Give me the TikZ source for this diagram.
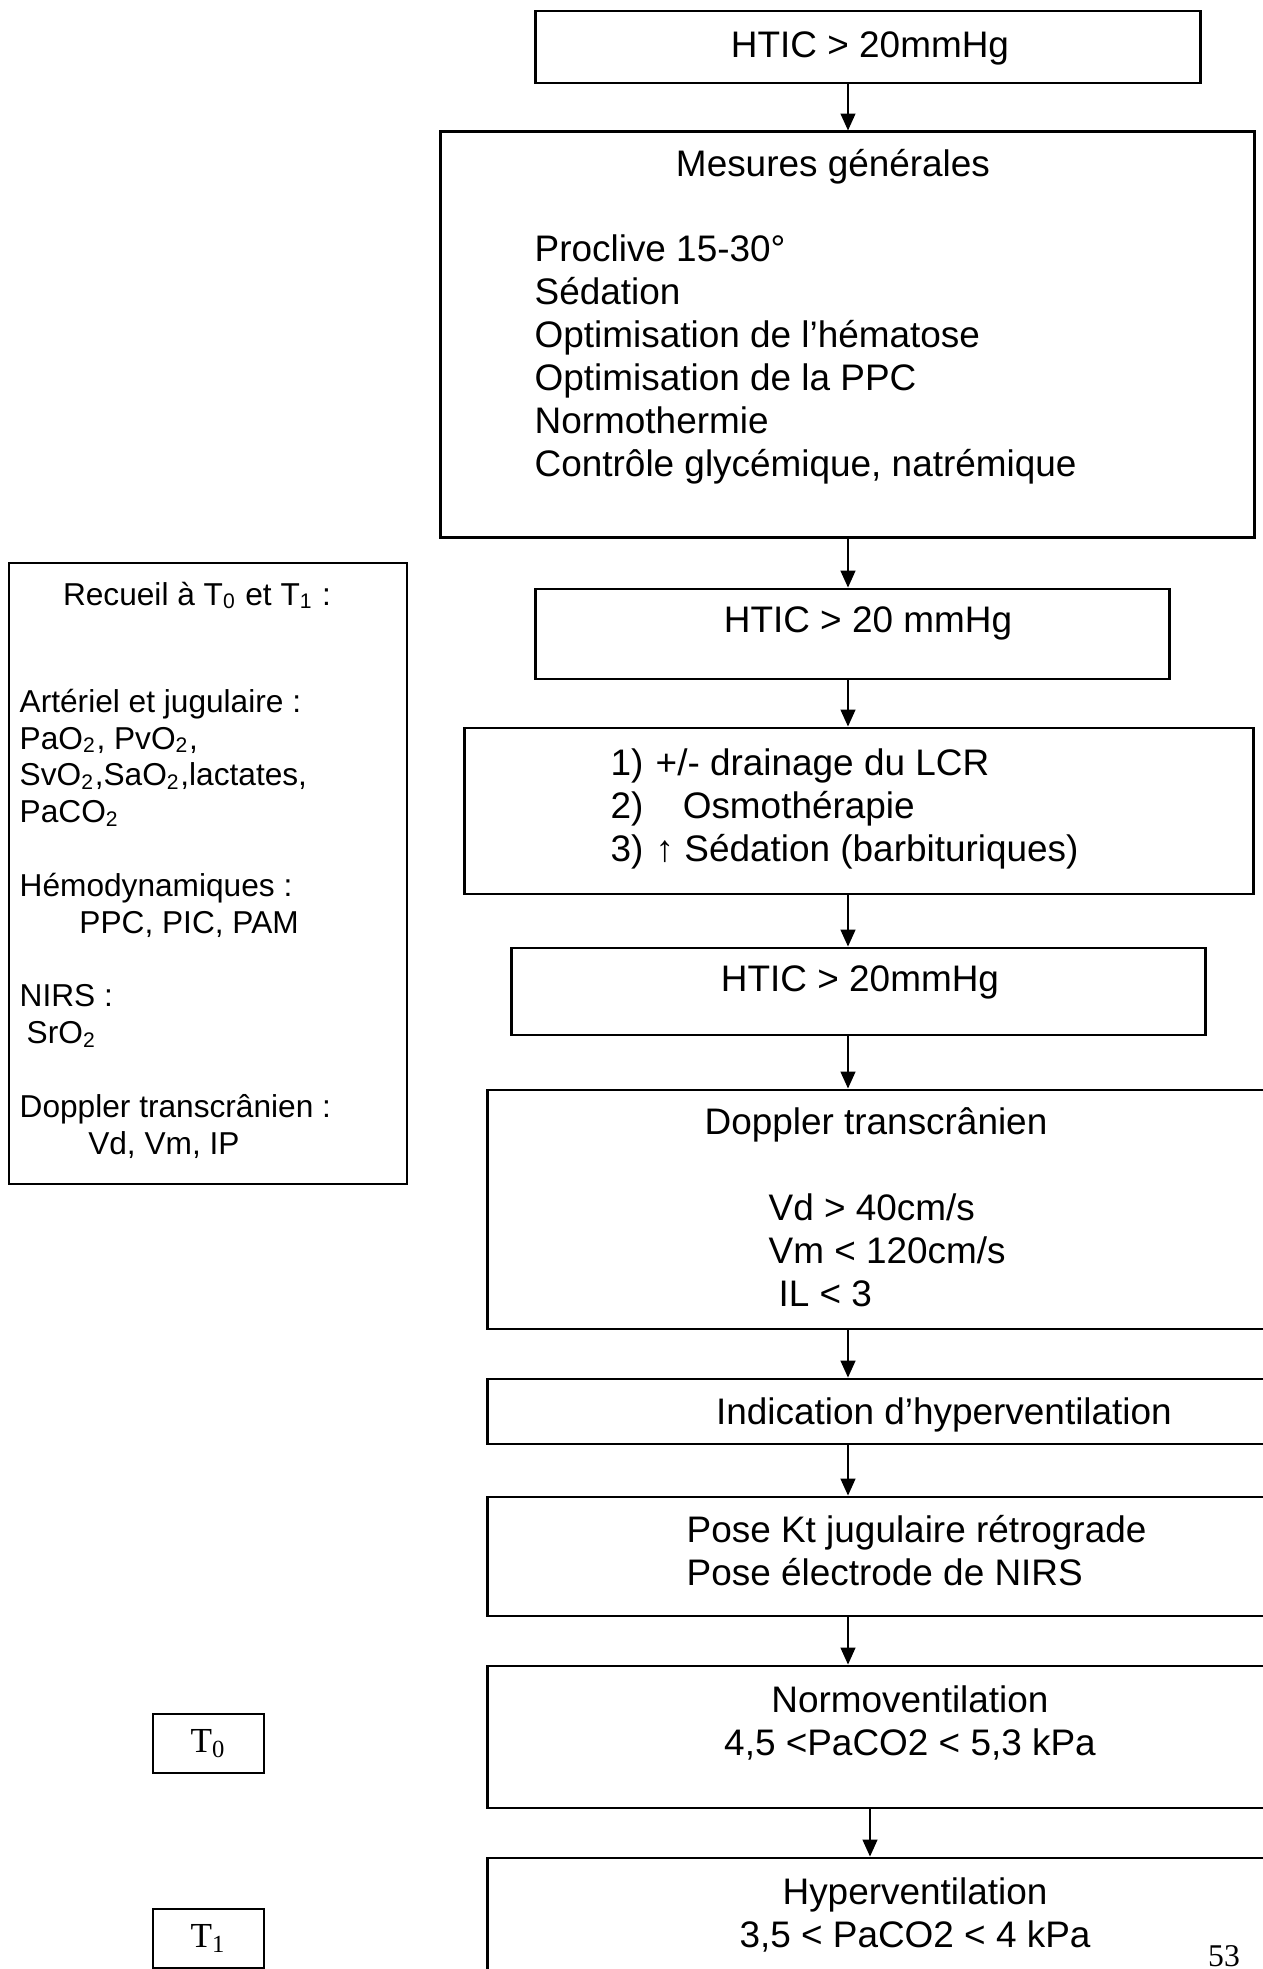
\documentclass[tikz,border=0pt]{standalone}
\usepackage{fontspec}
\setmainfont{Liberation Sans}
\newfontfamily\serifT{Liberation Serif}
\usetikzlibrary{arrows.meta}

\begin{document}
\begin{tikzpicture}[x=0.01cm,y=-0.01cm,
  boite/.style={draw,line width=0.8pt,inner sep=0pt},
  petite/.style={draw,line width=0.5pt,inner sep=0pt},
  fleche/.style={-{Triangle[length=4.8pt,width=4.2pt]},line width=0.5pt},
  texte/.style={font=\fontsize{10.5}{12.2}\selectfont,inner sep=0pt,align=left},
  petittexte/.style={font=\fontsize{9}{10.47}\selectfont,inner sep=0pt,align=left}]
  \useasboundingbox (0,0) rectangle (1262,1969);
  % colonne principale
  \node[boite,minimum width=6.64cm,minimum height=0.72cm] (b1) at (868,47) {}; %HTIC
  \node[boite,minimum width=8.13cm,minimum height=4.05cm] (b2) at (847.5,334.5) {}; %mesures
  \node[boite,minimum width=6.33cm,minimum height=0.90cm] (b3) at (852.5,634) {}; %HTIC
  \node[boite,minimum width=7.88cm,minimum height=1.66cm] (b4) at (859,811) {}; %traitements
  \node[boite,minimum width=6.93cm,minimum height=0.87cm] (b5) at (858.5,991.5) {}; %HTIC
  \node[boite,minimum width=8.02cm,minimum height=2.39cm] (b6) at (889,1209.5) {}; %doppler
  \node[boite,minimum width=8.02cm,minimum height=0.65cm] (b7) at (889,1411.5) {}; %indication
  \node[boite,minimum width=8.02cm,minimum height=1.19cm] (b8) at (889,1556.5) {}; %pose
  \node[boite,minimum width=8.02cm,minimum height=1.42cm] (b9) at (889,1737) {}; %normo
  \node[boite,minimum width=8.02cm,minimum height=1.52cm] (b10) at (889,1934) {}; %hyper
  % textes (base = derniere ligne)
  \node[texte,anchor=base] (l1) at (870,57) {HTIC > 20mmHg};
  \node[texte,anchor=base] (l2) at (833,176) {Mesures générales};
  \node[texte,anchor=base west] (l2b) at (534,476) {Proclive 15-30°\\Sédation\\Optimisation de l’hématose\\Optimisation de la PPC\\Normothermie\\Contrôle glycémique, natrémique};
  \node[texte,anchor=base] (l3) at (868,632) {HTIC > 20 mmHg};
  \node[texte,anchor=base west] (l4n) at (610,861) {1)\\2)\\3)};
  \node[texte,anchor=base west] (l4) at (655,861) {+/- drainage du LCR\\\hspace*{7.7pt}Osmothérapie\\↑ Sédation (barbituriques)};
  \node[texte,anchor=base] (l5) at (860,991) {HTIC > 20mmHg};
  \node[texte,anchor=base] (l6) at (876,1134) {Doppler transcrânien};
  \node[texte,anchor=base west] (l6b) at (768,1306) {Vd > 40cm/s\\Vm < 120cm/s\\\hspace*{2.8pt}IL < 3};
  \node[texte,anchor=base] (l7) at (944,1424) {Indication d’hyperventilation};
  \node[texte,anchor=base west] (l8) at (686,1585) {Pose Kt jugulaire rétrograde\\Pose électrode de NIRS};
  \node[texte,anchor=base,align=center] (l9) at (910,1755) {Normoventilation\\4,5 <PaCO2 < 5,3 kPa};
  \node[texte,anchor=base,align=center] (l10) at (915,1947) {Hyperventilation\\3,5 < PaCO2 < 4 kPa};
  % fleches
  \coordinate (axe) at (848,0);
  \coordinate (axe2) at (870,0);
  \draw[fleche] (b1.south -| axe) -- (b2.north -| axe);
  \draw[fleche] (b2.south -| axe) -- (b3.north -| axe);
  \draw[fleche] (b3.south -| axe) -- (b4.north -| axe);
  \draw[fleche] (b4.south -| axe) -- (b5.north -| axe);
  \draw[fleche] (b5.south -| axe) -- (b6.north -| axe);
  \draw[fleche] (b6.south -| axe) -- (b7.north -| axe);
  \draw[fleche] (b7.south -| axe) -- (b8.north -| axe);
  \draw[fleche] (b8.south -| axe) -- (b9.north -| axe);
  \draw[fleche] (b9.south -| axe2) -- (b10.north -| axe2);
  % colonne de gauche
  \node[petite,minimum width=3.98cm,minimum height=6.21cm] (recueil) at (208,873.5) {};
  \node[petittexte,anchor=base] (r0) at (197,605) {Recueil à T\textsubscript{0} et T\textsubscript{1} :};
  \node[petittexte,anchor=base west] (r1) at (19,1154) {Artériel et jugulaire :\\PaO\textsubscript{2}, PvO\textsubscript{2},\\SvO\textsubscript{2},SaO\textsubscript{2},lactates,\\PaCO\textsubscript{2}\\[10.47pt]Hémodynamiques :\\\hspace*{17pt}PPC, PIC, PAM\\[10.47pt]NIRS :\\\hspace*{2pt}SrO\textsubscript{2}\\[10.47pt]Doppler transcrânien :\\\hspace*{19.5pt}Vd, Vm, IP};
  \node[petite,minimum width=1.11cm,minimum height=0.59cm,font=\serifT\fontsize{10}{12}\selectfont] (t0) at (208.5,1743.5) {T\textsubscript{0}};
  \node[petite,minimum width=1.11cm,minimum height=0.59cm,font=\serifT\fontsize{10}{12}\selectfont] (t1) at (208.5,1938.5) {T\textsubscript{1}};
  \node[font=\serifT\fontsize{9}{11}\selectfont,anchor=base,inner sep=0pt] (page) at (1224,1966) {53};
\end{tikzpicture}
\end{document}
